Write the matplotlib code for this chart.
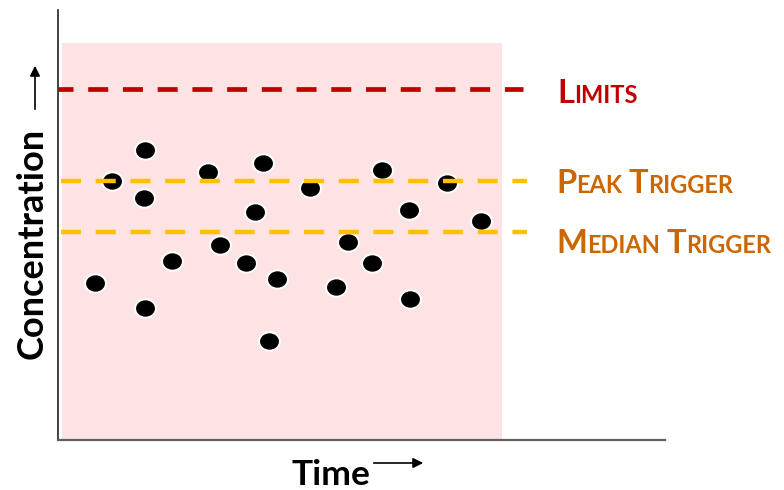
import matplotlib
matplotlib.use("Agg")
import matplotlib.pyplot as plt
from matplotlib.patches import Rectangle, FancyArrowPatch
from matplotlib.transforms import IdentityTransform, Affine2D
from matplotlib.path import Path

plt.rcParams['font.family'] = ['Lato', 'DejaVu Sans']
plt.rcParams['lines.scale_dashes'] = False

# ---- data (time, concentration) in arbitrary units ----
time_vals = [37, 54, 87, 86, 87, 114, 150, 162, 188, 197, 205,
             219, 211, 252, 278, 290, 314, 324, 351, 352, 389, 423]
conc_vals = [157, 259, 290, 242, 132, 179, 268, 195, 177, 228, 277,
             161, 99, 252, 153, 198, 177, 270, 230, 141, 257, 219]

limit_level = 351
peak_trigger = 259
median_trigger = 208

band_time = (4, 444)
band_conc = (0, 397)

x_range = (0, 607)
y_range = (0, 430)

W, H = 784, 490
fig = plt.figure(figsize=(W / 100, H / 100), dpi=100)
ax = fig.add_axes([58 / W, 50 / H, 607 / W, 430 / H])
ax.set_xlim(*x_range)
ax.set_ylim(*y_range)
ax.set_xticks([])
ax.set_yticks([])
for s in ('top', 'right'):
    ax.spines[s].set_visible(False)
ax.spines['left'].set_color('#222222')
ax.spines['left'].set_linewidth(1.2)
ax.spines['bottom'].set_color('#606060')
ax.spines['bottom'].set_linewidth(1.6)

# pink band
ax.add_patch(Rectangle((band_time[0], band_conc[0]), band_time[1] - band_time[0],
                       band_conc[1] - band_conc[0], facecolor='#fde3e4',
                       edgecolor='none', zorder=0))

# dots
ell = Path.unit_circle().transformed(Affine2D().scale(1.0, 0.88))
ax.plot(time_vals, conc_vals, linestyle='none', marker=ell, markersize=15,
        markerfacecolor='black', markeredgecolor='white', markeredgewidth=1.4,
        zorder=3, clip_on=False)

# dashed lines
on, off = 14.4, 10.6
ax.plot([0, 465], [limit_level, limit_level], color='#c00000', lw=3.4,
        linestyle=(3.6, (on, off)), dash_capstyle='butt',
        zorder=4, clip_on=False)
for lvl in (peak_trigger, median_trigger):
    ax.plot([3, 469], [lvl, lvl], color='#ffc000', lw=3.2,
            linestyle=(0, (on, off)), dash_capstyle='butt', zorder=4, clip_on=False)

# small-caps labels
fig.canvas.draw()
renderer = fig.canvas.get_renderer()


def smallcaps(x, y_px, text, color, big=23.5, small=17):
    yb = H - y_px
    cx = x
    for wi, word in enumerate(text.split(' ')):
        if wi > 0:
            cx += 6.5
        t = fig.text(cx, yb, word[0], transform=IdentityTransform(), fontsize=big,
                     fontweight='bold', color=color, va='baseline', ha='left')
        cx += t.get_window_extent(renderer).width
        t = fig.text(cx, yb, word[1:], transform=IdentityTransform(), fontsize=small,
                     fontweight='bold', color=color, va='baseline', ha='left')
        cx += t.get_window_extent(renderer).width


smallcaps(557, 103, 'LIMITS', '#c00000')
smallcaps(556, 193, 'PEAK TRIGGER', '#cc6600')
smallcaps(556, 253, 'MEDIAN TRIGGER', '#cc6600')

# axis labels
fig.text(291, H - 485, 'Time', transform=IdentityTransform(), fontsize=25.5,
         fontweight='bold', color='black', va='baseline', ha='left')
fig.text(32, H - 243, 'Concentration', transform=IdentityTransform(), fontsize=26,
         fontweight='bold', color='black', va='center', ha='center', rotation=90)

# arrows
fig.add_artist(FancyArrowPatch(
    (371, H - 463), (426, H - 463), transform=IdentityTransform(),
    arrowstyle='-|>', mutation_scale=15, lw=1.2, color='black'))
fig.add_artist(FancyArrowPatch(
    (35, H - 112), (35, H - 63), transform=IdentityTransform(),
    arrowstyle='-|>', mutation_scale=15, lw=1.2, color='black'))

fig.savefig('out.png', dpi=100)
